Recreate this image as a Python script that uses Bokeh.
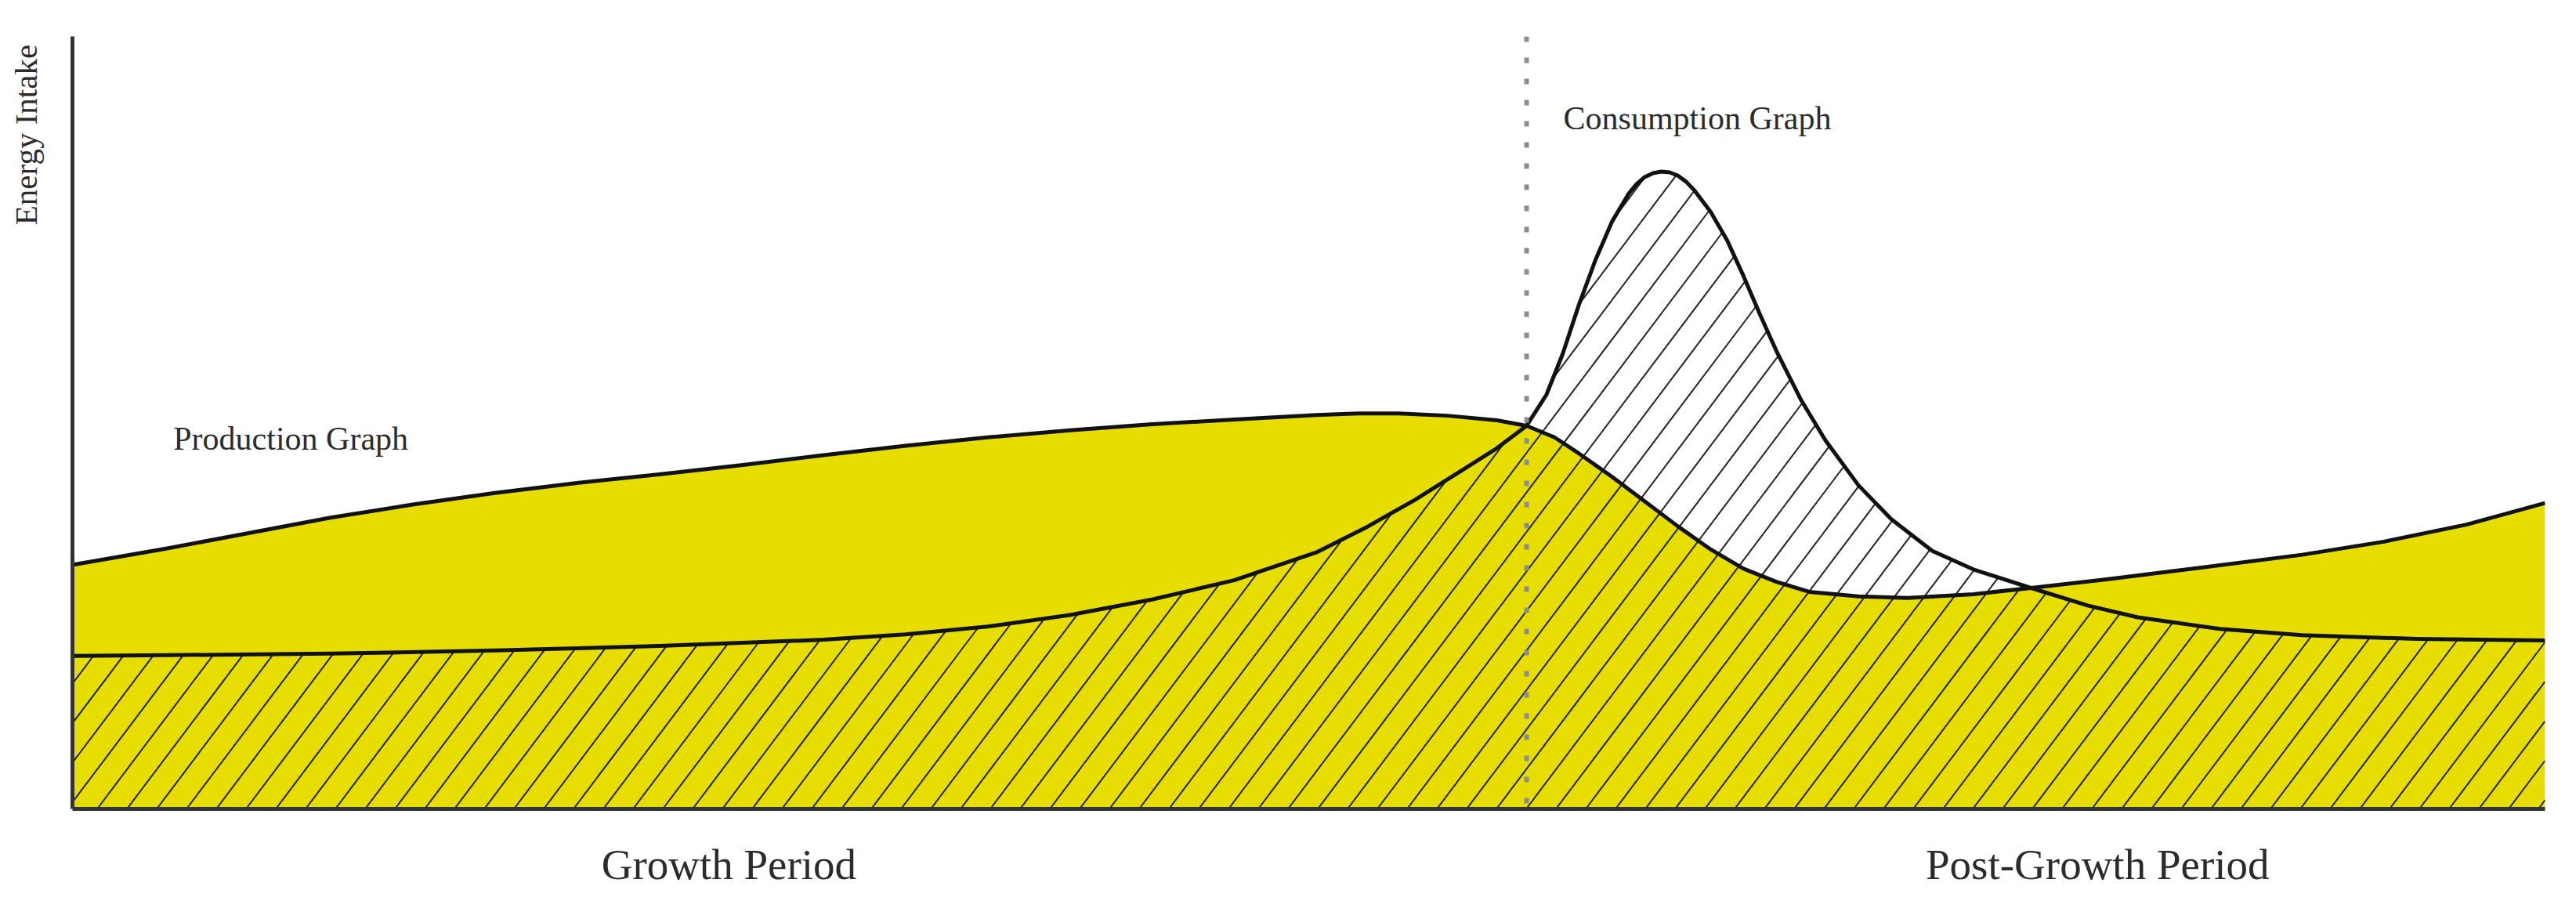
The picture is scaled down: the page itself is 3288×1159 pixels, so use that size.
import numpy as np
from bokeh.plotting import figure
from bokeh.models import Span, Label, Range1d, FixedTicker
from bokeh.embed import file_html
from bokeh.resources import INLINE

# ---- data (time 0-100, energy 0-100) ----
prod_x = [0, 3.79, 7.12, 10.44, 13.76, 17.08, 20.40, 23.73, 27.05, 30.37,
          33.69, 37.01, 40.34, 43.66, 46.98, 50.30, 52.0, 53.63, 55.62, 57.61, 58.81,
          59.94, 60.93, 62.26, 63.59, 64.92, 66.25, 67.58, 68.91, 70.24, 72.23,
          74.22, 76.88, 79.21, 82.20, 85.52, 90.17, 93.49, 96.82, 100]
prod_y = [31.6, 33.7, 35.7, 37.7, 39.4, 40.9, 42.2, 43.3, 44.5, 45.8,
          47.0, 48.1, 49.0, 49.8, 50.4, 51.0, 51.2, 51.2, 50.9, 50.3, 49.6,
          48.1, 46.0, 43.0, 39.8, 36.6, 33.6, 31.1, 29.4, 28.1, 27.5,
          27.3, 27.8, 28.6, 29.7, 31.0, 32.9, 34.6, 36.8, 39.6]

cons_x = [0, 3.79, 10.44, 17.08, 23.73, 30.37, 33.69, 37.01, 40.34, 43.66,
          46.98, 50.30, 52.30, 54.29, 56.28, 57.61, 58.81, 59.61, 60.27, 60.93,
          61.60, 62.26, 62.93, 63.26, 63.59, 63.93, 64.26, 64.59, 64.92, 65.26,
          65.59, 66.25, 66.92, 67.58, 68.25, 68.91, 69.90, 70.90, 72.23, 73.56,
          75.22, 76.88, 79.21, 81.53, 83.53, 86.85, 90.17, 94.82, 100]
cons_y = [19.8, 19.9, 20.1, 20.5, 21.1, 21.9, 22.6, 23.6, 25.1, 27.1,
          29.6, 33.2, 36.4, 40.0, 44.0, 46.7, 49.6, 53.6, 58.9, 65.3,
          71.1, 76.0, 79.6, 80.9, 81.8, 82.3, 82.5, 82.4, 82.0, 81.2,
          80.1, 77.3, 73.6, 69.0, 64.0, 59.3, 53.0, 47.7, 41.9, 37.5,
          33.4, 31.0, 28.6, 26.3, 24.8, 23.3, 22.5, 22.0, 21.8]

period_labels = ["Growth Period", "Post-Growth Period"]
period_centers = [26.55, 81.9]
boundary_x = 58.81

curve_labels = ["Production Graph", "Consumption Graph"]
curve_label_x = [4.08, 60.3]
curve_label_y = [47.95, 89.4]

y_title = "Energy Intake"
y_title_center = 87.27

# ---- figure ----
W, H = 3272, 1143
BL, BR, BT, BB = 92, 24, 46, 111
p = figure(width=W, height=H, output_backend="svg", toolbar_location=None,
           x_range=Range1d(0, 100), y_range=Range1d(0, 100),
           min_border_left=BL, min_border_right=BR, min_border_top=BT,
           min_border_bottom=BB)
p.background_fill_color = "white"
p.border_fill_color = "white"
p.outline_line_color = None
p.grid.visible = False

FONT = "Liberation Serif"
YELLOW = "#E6DE00"
TEXT = "#2b2b2b"

for ax in (p.xaxis, p.yaxis):
    ax.major_tick_line_color = None
    ax.minor_tick_line_color = None
    ax.major_tick_out = 0
    ax.major_tick_in = 0
    ax.axis_line_width = 5
    ax.axis_line_color = "#333333"
    ax.major_label_text_font = FONT
    ax.major_label_text_color = TEXT

p.xaxis.ticker = FixedTicker(ticks=period_centers)
p.xaxis.major_label_overrides = {c: t for c, t in zip(period_centers, period_labels)}
p.xaxis.major_label_text_font_size = "55px"
p.xaxis.major_label_standoff = 40

p.yaxis.ticker = FixedTicker(ticks=[y_title_center])
p.yaxis.major_label_overrides = {y_title_center: y_title}
p.yaxis.major_label_orientation = "vertical"
p.yaxis.major_label_text_font_size = "41px"
p.yaxis.major_label_standoff = 36

# production area (yellow)
p.varea(x=prod_x, y1=[0] * len(prod_x), y2=prod_y, fill_color=YELLOW)

# hatch of the consumption area: straight lines at the reference angle,
# clipped to the area under the consumption curve
px_per_x = (W - BL - BR) / 100.0
px_per_y = (H - BT - BB) / 100.0
hatch_angle = np.deg2rad(53)
slope = np.tan(hatch_angle) * px_per_x / px_per_y
spacing = 38 / px_per_x
cx = np.asarray(cons_x, float)
cy = np.asarray(cons_y, float)
ys = np.linspace(0, cy.max(), 4000)
hx, hy = [], []
b = 1.0 - spacing * np.ceil((cy.max() / slope) / spacing)
while b < 100:
    xs = b + ys / slope
    inside = (xs >= 0) & (xs <= 100) & (ys <= np.interp(xs, cx, cy))
    edges = np.flatnonzero(np.diff(np.concatenate([[0], inside.astype(int), [0]])))
    for s, e in zip(edges[::2], edges[1::2]):
        e -= 1
        if e > s:
            hx.append([xs[s], xs[e]])
            hy.append([ys[s], ys[e]])
    b += spacing
p.multi_line(hx, hy, line_color="#222222", line_width=2)

# outlines
p.line(prod_x, prod_y, line_color="#111111", line_width=5, line_join="round")
p.line(cons_x, cons_y, line_color="#111111", line_width=5, line_join="round")

# period boundary
p.add_layout(Span(location=boundary_x, dimension="height", line_color="#8c8c8c",
                  line_width=6, line_dash="7 20"))

for t, x, y in zip(curve_labels, curve_label_x, curve_label_y):
    p.add_layout(Label(x=x, y=y, text=t, text_font=FONT, text_font_size="42px",
                       text_color=TEXT, text_baseline="alphabetic",
                       text_align="left"))

open("out.html", "w").write(file_html(p, INLINE))
